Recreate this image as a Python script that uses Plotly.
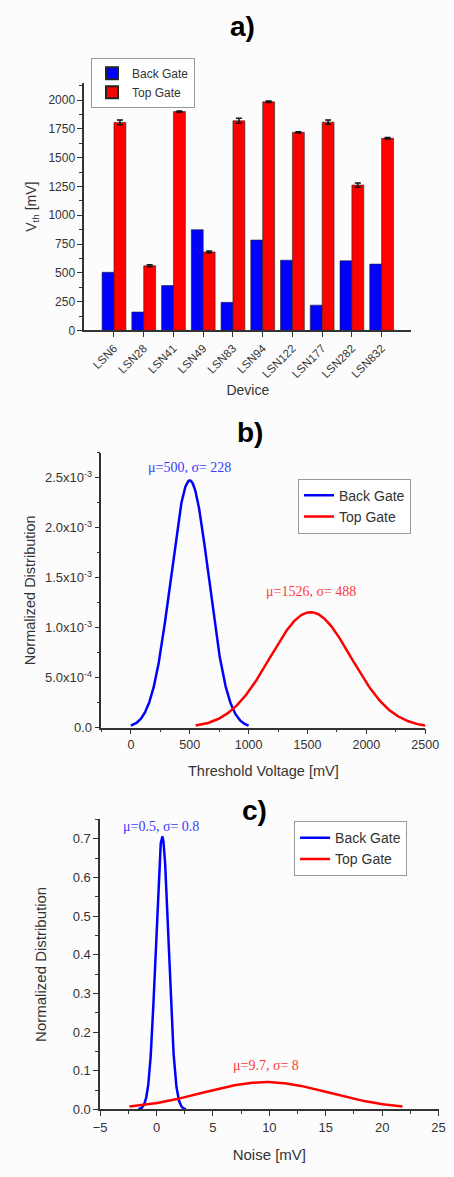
import numpy as np
import plotly.graph_objects as go

# ---- a) threshold voltage per device ----
devices = ["LSN6", "LSN28", "LSN41", "LSN49", "LSN83", "LSN94",
           "LSN122", "LSN177", "LSN282", "LSN832"]
back_gate_vth = [505, 160, 390, 875, 244, 785, 610, 220, 605, 576]
top_gate_vth = [1806, 562, 1900, 682, 1820, 1985, 1720, 1808, 1262, 1668]
top_gate_err = [20, 8, 6, 8, 22, 6, 5, 18, 18, 6]

# ---- b) threshold voltage distributions (mean, sigma, plotted span) ----
vth_back = {"mu": 500, "sigma": 228, "span": [0, 1000]}
vth_top = {"mu": 1526, "sigma": 488, "span": [550, 2500]}

# ---- c) noise distributions ----
noise_back = {"mu": 0.5, "sigma": 0.8, "span": [-1.6, 2.6]}
noise_top = {"mu": 9.7, "sigma": 8, "span": [-2.4, 21.8]}

BLUE = "#0000ff"
RED = "#ff0000"
AX = "#333333"
FONT = "Liberation Sans, Arial, sans-serif"
SERIF = "Liberation Serif, Times New Roman, serif"


def gauss_curve(p, n=300):
    x = np.linspace(p["span"][0], p["span"][1], n)
    s = p["sigma"]
    y = np.exp(-((x - p["mu"]) / s) ** 2) / (s * np.sqrt(np.pi))
    return x, y


fig = go.Figure()

fig.add_trace(go.Bar(
    x=devices, y=back_gate_vth, name="Back Gate",
    marker=dict(color=BLUE, line=dict(color="#222", width=0.6)),
    xaxis="x", yaxis="y", legend="legend"))
fig.add_trace(go.Bar(
    x=devices, y=top_gate_vth, name="Top Gate",
    marker=dict(color=RED, line=dict(color="#222", width=0.6)),
    error_y=dict(type="data", array=top_gate_err, color="#111",
                 thickness=1.5, width=3),
    xaxis="x", yaxis="y", legend="legend"))

for p, name, col in [(vth_back, "Back Gate", BLUE), (vth_top, "Top Gate", RED)]:
    x, y = gauss_curve(p)
    fig.add_trace(go.Scatter(x=x, y=y, mode="lines", name=name,
                             line=dict(color=col, width=2.5),
                             xaxis="x2", yaxis="y2", legend="legend2"))

for p, name, col in [(noise_back, "Back Gate", BLUE), (noise_top, "Top Gate", RED)]:
    x, y = gauss_curve(p)
    fig.add_trace(go.Scatter(x=x, y=y, mode="lines", name=name,
                             line=dict(color=col, width=2.5),
                             xaxis="x3", yaxis="y3", legend="legend3"))


def axis_style(**kw):
    base = dict(showline=True, linecolor=AX, linewidth=1.5, ticks="outside",
                ticklen=5, tickwidth=1.3, tickcolor=AX, showgrid=False,
                zeroline=False, color=AX, mirror=False,
                tickfont=dict(family=FONT, size=12, color=AX),
                title_font=dict(family=FONT, size=14, color=AX))
    base.update(kw)
    return base


minor = lambda d: dict(ticks="outside", ticklen=3, tickcolor=AX, dtick=d, showgrid=False)

# exponent-style labels for panel b
b_ticks = [0, 5e-4, 1e-3, 1.5e-3, 2e-3, 2.5e-3]
b_text = ["0.0", "5.0x10<sup>-4</sup>", "1.0x10<sup>-3</sup>", "1.5x10<sup>-3</sup>",
          "2.0x10<sup>-3</sup>", "2.5x10<sup>-3</sup>"]

legend_common = dict(xanchor="left", yanchor="top", bgcolor="#ffffff",
                     bordercolor="#999", borderwidth=1, tracegroupgap=0)

fig.update_layout(
    width=454, height=1177,
    margin=dict(l=0, r=0, t=0, b=0),
    paper_bgcolor="#fcfcfc", plot_bgcolor="#fcfcfc",
    barmode="group", bargap=0.2, bargroupgap=0,
    showlegend=True,
    font=dict(family=FONT, color=AX),
    xaxis=axis_style(domain=[0.1784, 0.9339], anchor="y", range=[-1, 10],
                     tickangle=-45, tickfont=dict(family=FONT, size=11.5, color=AX),
                     title=dict(text="Device", standoff=6)),
    yaxis=axis_style(domain=[0.7173, 0.9292], anchor="x", range=[0, 2150],
                     dtick=250, minor=minor(125),
                     title=dict(text="V<sub>th</sub> [mV]", standoff=8)),
    xaxis2=axis_style(domain=[0.2181, 0.9659], anchor="y2", range=[-250, 2500],
                      tickvals=[0, 500, 1000, 1500, 2000, 2500], minor=minor(250),
                      tickfont=dict(family=FONT, size=12.5, color=AX),
                      title=dict(text="Threshold Voltage [mV]", standoff=14,
                                 font=dict(family=FONT, size=14.5, color=AX))),
    yaxis2=axis_style(domain=[0.3775, 0.6126], anchor="x2", range=[0, 2.75e-3],
                      tickvals=b_ticks, ticktext=b_text, minor=minor(2.5e-4),
                      tickfont=dict(family=FONT, size=13, color=AX),
                      title=dict(text="Normalized Distribution", standoff=6,
                                 font=dict(family=FONT, size=14.5, color=AX))),
    xaxis3=axis_style(domain=[0.2152, 0.9967], anchor="y3", range=[-5, 25],
                      dtick=5, minor=minor(2.5),
                      tickfont=dict(family=FONT, size=13, color=AX),
                      title=dict(text="Noise [mV]", standoff=16,
                                 font=dict(family=FONT, size=15, color=AX))),
    yaxis3=axis_style(domain=[0.0510, 0.2991], anchor="x3", range=[0, 0.75],
                      dtick=0.1, tickformat=".1f", minor=minor(0.05),
                      tickfont=dict(family=FONT, size=13, color=AX),
                      title=dict(text="Normalized Distribution", standoff=22,
                                 font=dict(family=FONT, size=15, color=AX))),
    legend=dict(x=0.194, y=0.9505, font=dict(family=FONT, size=12, color=AX),
                itemsizing="constant", **legend_common),
    legend2=dict(x=0.672, y=0.5905, font=dict(family=FONT, size=14, color=AX),
                 **legend_common),
    legend3=dict(x=0.663, y=0.2975, font=dict(family=FONT, size=14, color=AX),
                 **legend_common),
)

# panel letters
for txt, x, y in [("a)", 247, 27), ("b)", 255, 435), ("c)", 259, 816)]:
    fig.add_annotation(text=f"<b>{txt}</b>", xref="paper", yref="paper",
                       x=x / 454, y=1 - y / 1177, xanchor="center", yanchor="middle",
                       showarrow=False, font=dict(family=FONT, size=28, color="#000"))

# distribution parameter labels
def stat_label(p):
    return f"\u03bc={p['mu']}, \u03c3= {p['sigma']}"

fig.add_annotation(text=stat_label(vth_back), xref="x2", yref="y2",
                   x=vth_back["mu"], y=2.6e-3, yanchor="middle", showarrow=False,
                   font=dict(family=SERIF, size=14, color="#3a3aff"))
fig.add_annotation(text=stat_label(vth_top), xref="x2", yref="y2",
                   x=1534, y=1.36e-3, yanchor="middle", showarrow=False,
                   font=dict(family=SERIF, size=14, color="#ff3a3a"))
fig.add_annotation(text=stat_label(noise_back), xref="x3", yref="y3",
                   x=0.4, y=0.732, yanchor="middle", showarrow=False,
                   font=dict(family=SERIF, size=14, color="#3a3aff"))
fig.add_annotation(text=stat_label(noise_top), xref="x3", yref="y3",
                   x=noise_top["mu"], y=0.114, yanchor="middle", showarrow=False,
                   font=dict(family=SERIF, size=14, color="#ff3a3a"))

fig.write_html("out.html")
